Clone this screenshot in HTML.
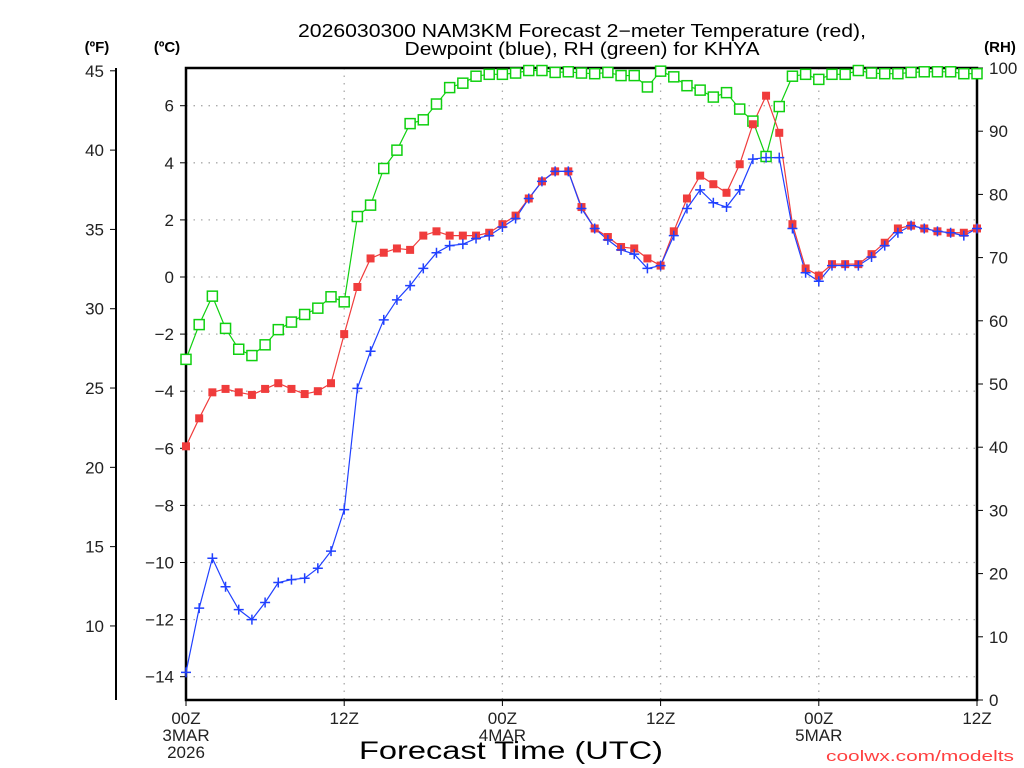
<!DOCTYPE html>
<html><head><meta charset="utf-8"><style>
html,body{margin:0;padding:0;background:#fff;}
svg{display:block;font-family:"Liberation Sans",sans-serif;}
</style></head><body>
<svg id="chart" width="1024" height="768" viewBox="0 0 1024 768" xmlns="http://www.w3.org/2000/svg">
<text x="582" y="37" font-size="18" text-anchor="middle" textLength="568" lengthAdjust="spacingAndGlyphs">2026030300 NAM3KM Forecast 2−meter Temperature (red),</text>
<text x="582" y="55" font-size="18" text-anchor="middle" textLength="355" lengthAdjust="spacingAndGlyphs">Dewpoint (blue), RH (green) for KHYA</text>
<text x="97" y="52" font-size="15" font-weight="bold" text-anchor="middle">(ºF)</text>
<text x="167" y="52" font-size="15" font-weight="bold" text-anchor="middle">(ºC)</text>
<text x="1000" y="52" font-size="15" font-weight="bold" text-anchor="middle">(RH)</text>
<g id="grid"></g>
<g id="axes"></g>
<g id="series"></g>
<text x="511" y="759" font-size="25" text-anchor="middle" textLength="304" lengthAdjust="spacingAndGlyphs">Forecast Time (UTC)</text>
<text x="1014" y="761" font-size="15" fill="#ff4040" text-anchor="end" textLength="188" lengthAdjust="spacingAndGlyphs">coolwx.com/modelts</text>
</svg>
<script>
const hours = Array.from({length:61},(_,i)=>i);
const tempC = [-5.93,-4.95,-4.04,-3.92,-4.04,-4.13,-3.92,-3.72,-3.92,-4.1,-4.0,-3.72,-2.0,-0.35,0.65,0.85,1.0,0.95,1.45,1.6,1.45,1.45,1.45,1.55,1.85,2.15,2.75,3.35,3.7,3.7,2.45,1.7,1.4,1.05,1.0,0.65,0.4,1.6,2.75,3.55,3.25,2.95,3.95,5.35,6.35,5.05,1.85,0.3,0.05,0.45,0.45,0.45,0.8,1.2,1.7,1.8,1.7,1.6,1.55,1.55,1.7];
const dewC = [-13.85,-11.6,-9.85,-10.85,-11.65,-12.0,-11.4,-10.7,-10.6,-10.55,-10.2,-9.6,-8.15,-3.9,-2.6,-1.5,-0.8,-0.3,0.3,0.85,1.1,1.15,1.35,1.45,1.75,2.05,2.75,3.35,3.7,3.7,2.4,1.7,1.3,0.95,0.8,0.3,0.4,1.45,2.4,3.05,2.6,2.45,3.05,4.13,4.18,4.18,1.7,0.15,-0.15,0.4,0.4,0.4,0.7,1.1,1.55,1.8,1.7,1.6,1.55,1.45,1.7];
const rh = [53.9,59.4,63.9,58.8,55.5,54.5,56.2,58.6,59.8,61,62,63.8,63,76.5,78.3,84.1,87,91.2,91.8,94.3,96.9,97.6,98.7,99,99,99.2,99.6,99.6,99.3,99.4,99.2,99.1,99.3,98.8,98.8,97,99.5,98.6,97.2,96.5,95.4,96.1,93.5,91.6,86,93.9,98.7,99,98.2,99,99,99.6,99.2,99.1,99.1,99.3,99.4,99.4,99.4,99.1,99.1];
const cTicks = [-14,-12,-10,-8,-6,-4,-2,0,2,4,6];
const fTicks = [10,15,20,25,30,35,40,45];
const rhTicks = [0,10,20,30,40,50,60,70,80,90,100];
const xTickHours = [0,12,24,36,48,60];
const xTickLabels = [["00Z","3MAR","2026"],["12Z"],["00Z","4MAR"],["12Z"],["00Z","5MAR"],["12Z"]];

const L=186,R=977,T=68,B=700;
const xS = h => L + (R-L)*h/60;
const yC = c => 277 - 28.55*c;
const yF = f => yC((f-32)*5/9);
const yRH = r => B - (B-T)*r/100;
const NS="http://www.w3.org/2000/svg";
function mk(tag, parent, attrs){const e=document.createElementNS(NS,tag);for(const k in attrs)e.setAttribute(k,attrs[k]);parent.appendChild(e);return e;}
const grid=document.getElementById('grid'), axes=document.getElementById('axes'), ser=document.getElementById('series');

cTicks.forEach(c=>{
  const y=yC(c);
  const g=mk('line',grid,{x1:L,x2:R,y1:y,y2:y,stroke:'#aaa','stroke-width':1.3,'stroke-dasharray':'1.5 6'});
  
  
  const t=mk('line',axes,{x1:L-6,x2:L,y1:y,y2:y,stroke:'#000','stroke-width':1});
  
  
  const tx=mk('text',axes,{x:L-12,y:y+6,'font-size':17,'text-anchor':'end',fill:'#222'});
  tx.textContent=(c<0?'−'+Math.abs(c):String(c));
  
  
});
[12,24,36,48].forEach(h=>{
  const x=xS(h);
  const g=mk('line',grid,{x1:x,x2:x,y1:T,y2:B,stroke:'#aaa','stroke-width':1.3,'stroke-dasharray':'1.5 6'});
  
  
});
// F axis
const fl=mk('line',axes,{x1:116,x2:116,y1:68,y2:700,stroke:'#000','stroke-width':2});


fTicks.forEach(f=>{
  const y=yF(f);
  const t=mk('line',axes,{x1:110,x2:116,y1:y,y2:y,stroke:'#000','stroke-width':1});
  
  
  const tx=mk('text',axes,{x:104,y:y+6,'font-size':17,'text-anchor':'end',fill:'#222'});
  tx.textContent=String(f);
  
  
});
rhTicks.forEach(r=>{
  const y=yRH(r);
  const t=mk('line',axes,{x1:R,x2:R+6,y1:y,y2:y,stroke:'#000','stroke-width':1});
  
  
  const tx=mk('text',axes,{x:R+12,y:y+6,'font-size':17,'text-anchor':'start',fill:'#222'});
  tx.textContent=String(r);
  
  
});
xTickHours.forEach((h,i)=>{
  const x=xS(h);
  const t=mk('line',axes,{x1:x,x2:x,y1:B,y2:B+6,stroke:'#000','stroke-width':1});
  
  
  xTickLabels[i].forEach((s,j)=>{
    const tx=mk('text',axes,{x:x,y:724+j*17,'font-size':17,'text-anchor':'middle',fill:'#222'});
    tx.textContent=s;
    
    
  });
});
const fr=mk('rect',axes,{x:L,y:T,width:R-L,height:B-T,fill:'none',stroke:'#000','stroke-width':2.5});



function line(vals,yf,color,name){
  const p=mk('polyline',ser,{points:vals.map((v,i)=>xS(hours[i])+','+yf(v)).join(' '),fill:'none',stroke:color,'stroke-width':1.2});
  
  
}
line(rh,yRH,'#10d010','rh-line');
line(tempC,yC,'#f03c3c','temperature-line');
line(dewC,yC,'#2040ff','dewpoint-line');
rh.forEach((v,i)=>{
  const x=xS(hours[i]),y=yRH(v);
  const m=mk('rect',ser,{x:x-5,y:y-5,width:10,height:10,fill:'#fff',stroke:'#10d010','stroke-width':1.5});
  
  
});
tempC.forEach((v,i)=>{
  const x=xS(hours[i]),y=yC(v);
  const m=mk('rect',ser,{x:x-4,y:y-4,width:8,height:8,fill:'#f03c3c'});
  
  
});
dewC.forEach((v,i)=>{
  const x=xS(hours[i]),y=yC(v);
  const m=mk('path',ser,{d:`M${x-5},${y}H${x+5}M${x},${y-5}V${y+5}`,stroke:'#2040ff','stroke-width':1.5,fill:'none'});
  
  
});
</script>
</body></html>
